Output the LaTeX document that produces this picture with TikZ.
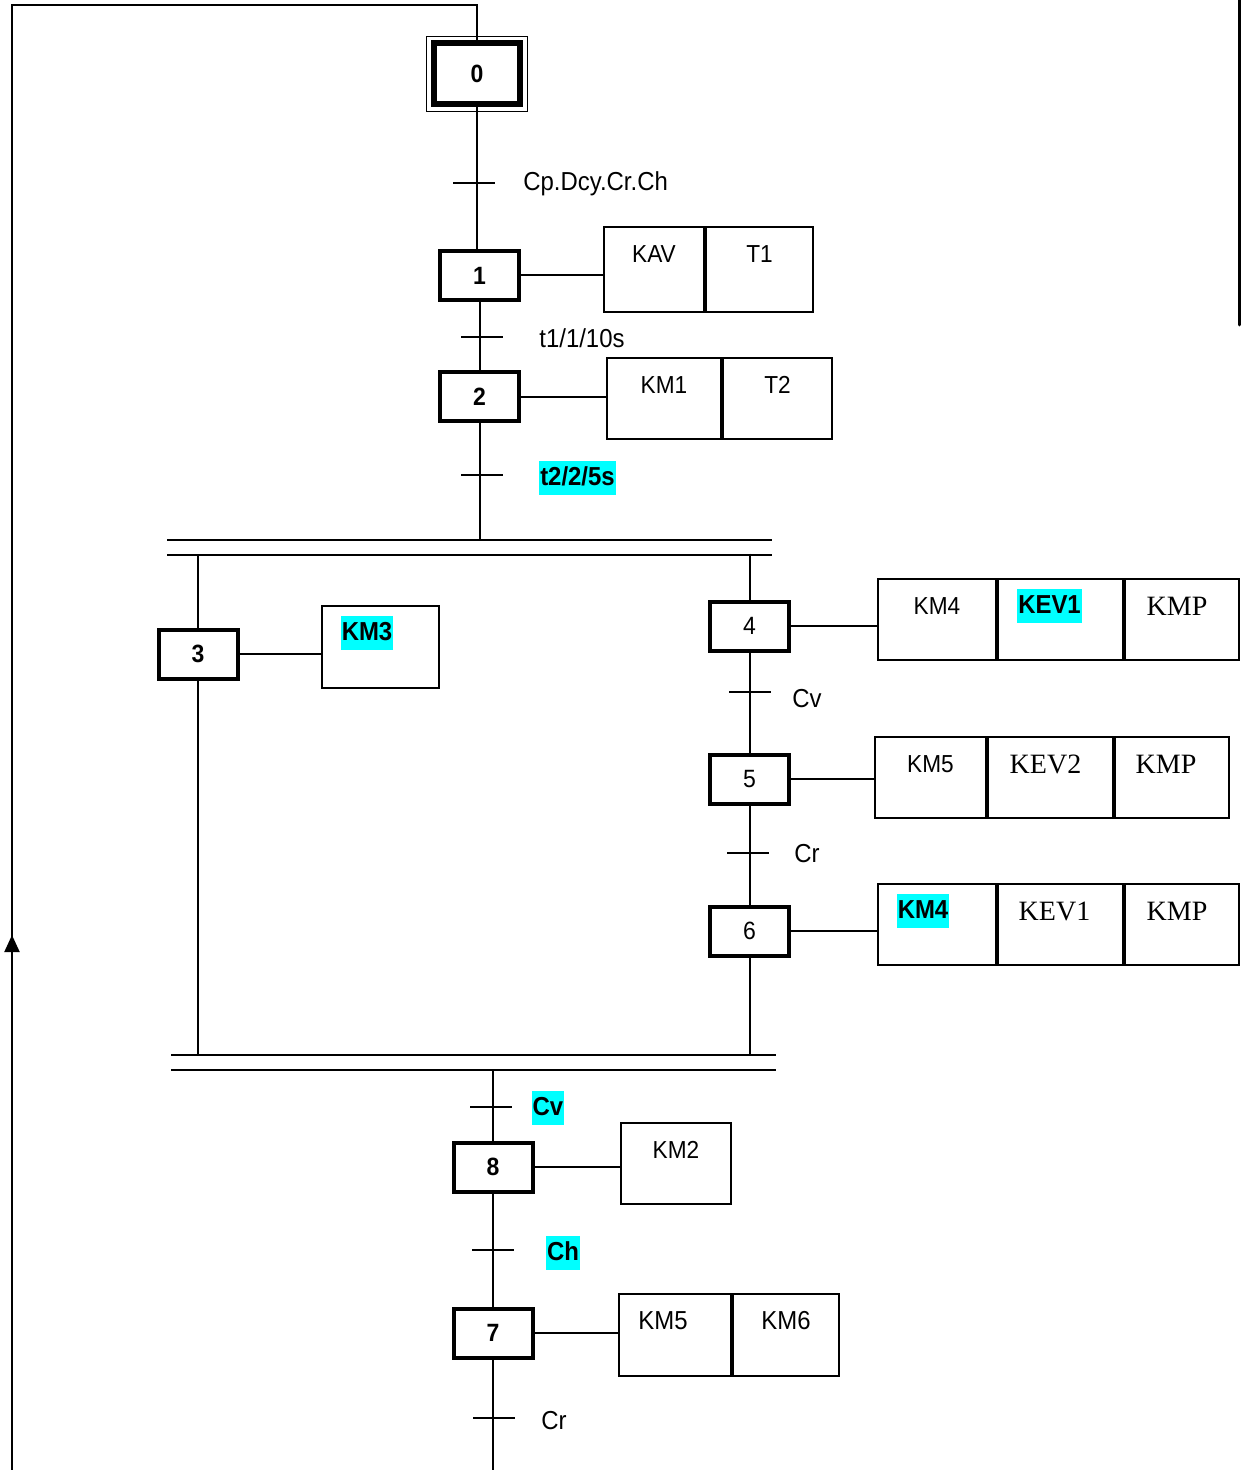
\documentclass[tikz,border=0pt]{standalone}
\usepackage{fontspec}
\setmainfont{Liberation Sans}[FakeStretch=0.92]
\newfontfamily\tnr{Liberation Serif}
\usetikzlibrary{arrows.meta,calc}
\definecolor{hl}{RGB}{0,255,255}
\begin{document}
\begin{tikzpicture}[x=0.5pt,y=-0.5pt,
 conn/.style={line width=1pt},
 stepbox/.style={draw, line width=2pt, minimum width=39.5pt, minimum height=24.5pt, inner sep=0pt, font=\fontsize{12.5}{14}\selectfont\bfseries},
 stepplain/.style={stepbox, font=\fontsize{12.5}{14}\selectfont},
 cell/.style={draw, line width=1pt, inner sep=0pt, minimum height=40.5pt},
 ct/.style={anchor=center, yshift=-14pt, inner sep=0pt, font=\fontsize{12.3}{14}\selectfont},
 cs/.style={ct, font=\fontsize{14}{16}\selectfont\tnr},
 ch/.style={ct, font=\fontsize{13}{15}\selectfont\bfseries, fill=hl, inner xsep=0.6pt, inner ysep=0.6pt, text height=11.5pt, text depth=4.5pt},
 trans/.style={fill=black, minimum width=21pt, minimum height=1pt, inner sep=0pt, outer sep=0pt},
 tl/.style={anchor=west, inner sep=0pt, font=\fontsize{13}{15}\selectfont},
 thl/.style={inner xsep=0.6pt, inner ysep=0.6pt, fill=hl, font=\fontsize{13}{15}\selectfont\bfseries, text height=11.5pt, text depth=4.5pt},
 bar/.style={fill=black, minimum height=1.3pt, minimum width=302.5pt, inner sep=0pt, outer sep=0pt},
]
\useasboundingbox (0,0) rectangle (1241,1470);

% steps
\node[stepbox, line width=3pt, minimum width=43pt, minimum height=30.5pt] (s0) at (477,74) {0};
\draw[line width=0.7pt] ($(s0.north west)+(-2.3pt,2pt)$) rectangle ($(s0.south east)+(2.3pt,-2pt)$);
\node[stepbox] (s1) at (479.5,275.5) {1};
\node[stepbox] (s2) at (479.5,397) {2};
\node[stepbox] (s3) at (198,654) {3};
\node[stepplain] (s4) at (749.5,626) {4};
\node[stepplain] (s5) at (749.5,779) {5};
\node[stepplain] (s6) at (749.5,931) {6};
\node[stepbox] (s8) at (493,1167) {8};
\node[stepbox] (s7) at (493,1333) {7};

% bars
\node[bar] (ba1) at (469.5,540) {};
\node[bar] (ba2) at (469.5,555) {};
\node[bar] (bb1) at (473.5,1055) {};
\node[bar] (bb2) at (473.5,1070) {};

% actions
\node[cell, minimum width=50pt, minimum height=42.5pt, label={[ct]north:KAV}] (a1a) at (654,269.5) {};
\node[cell, minimum width=53.5pt, minimum height=42.5pt, label={[ct]north:T1}] (a1b) at (759.5,269.5) {};
\node[cell, minimum width=57pt, label={[ct]north:KM1}] (a2a) at (664,398.5) {};
\node[cell, minimum width=54.5pt, label={[ct]north:T2}] (a2b) at (777.5,398.5) {};
\node[cell, minimum width=58.5pt, minimum height=41pt, label={[ch, xshift=-6.75pt]north:KM3}] (a3) at (380.5,647) {};
\node[cell, minimum width=59pt, label={[ct]north:KM4}] (a4a) at (937,619.5) {};
\node[cell, minimum width=62.5pt, label={[ch, xshift=-5.5pt]north:KEV1}] (a4b) at (1060.5,619.5) {};
\node[cell, minimum width=57pt, label={[cs, xshift=-2.5pt]north:KMP}] (a4c) at (1182,619.5) {};
\node[cell, minimum width=55.5pt, label={[ct]north:KM5}] (a5a) at (930.5,777.5) {};
\node[cell, minimum width=62.5pt, label={[cs, xshift=-2.5pt]north:KEV2}] (a5b) at (1050.5,777.5) {};
\node[cell, minimum width=57pt, label={[cs, xshift=-3pt]north:KMP}] (a5c) at (1172,777.5) {};
\node[cell, minimum width=59pt, label={[ch, xshift=-7pt]north:KM4}] (a6a) at (937,924.5) {};
\node[cell, minimum width=62.5pt, label={[cs, xshift=-3pt]north:KEV1}] (a6b) at (1060.5,924.5) {};
\node[cell, minimum width=57pt, label={[cs, xshift=-2.5pt]north:KMP}] (a6c) at (1182,924.5) {};
\node[cell, minimum width=55pt, label={[ct]north:KM2}] (a8) at (676,1163.5) {};
\node[cell, minimum width=56pt, minimum height=41pt, label={[ct, font=\fontsize{13}{15}\selectfont, xshift=-6pt]north:KM5}] (a7a) at (675,1335) {};
\node[cell, minimum width=53pt, minimum height=41pt, label={[ct, font=\fontsize{13}{15}\selectfont]north:KM6}] (a7b) at (786,1335) {};

% transitions
\node[trans] (t0) at (474,183) {};
\node[tl] (l0) at (523,184) {Cp.Dcy.Cr.Ch};
\node[trans] (t1) at (482,337) {};
\node[tl] (l1) at (539,338) {t1/1/10s};
\node[trans] (t2) at (482,475) {};
\node[thl] (l2) at (577.5,478) {t2/2/5s};
\node[trans] (t4) at (750,692) {};
\node[tl] (l4) at (792,699) {Cv};
\node[trans] (t5) at (748,853) {};
\node[tl] (l5) at (794,854) {Cr};
\node[trans] (t6) at (491,1107) {};
\node[thl] (l6) at (548,1108) {Cv};
\node[trans] (t8) at (493,1250) {};
\node[thl] (l8) at (563,1253) {Ch};
\node[trans] (t7) at (494,1418) {};
\node[tl] (l7) at (541,1421) {Cr};

% loop back
\coordinate (rb) at (12,1470);
\coordinate (rt) at (12,5);
\coordinate (arr) at (12,935);
\coordinate (bot) at (491,1470);
\draw[conn] (rb) -- (rt) -- (s0.north |- rt) -- (s0.north);
\draw[conn, -{Triangle[width=7.5pt,length=8.5pt]}] (rb) -- (arr);

% links
\draw[conn] (s0.south) -- (s0.south |- s1.north);
\draw[conn] (s1.south) -- (s2.north);
\draw[conn] (s2.south) -- (s2.south |- ba1.north);
\draw[conn] (s3.north |- ba2.south) -- (s3.north);
\draw[conn] (s4.north |- ba2.north) -- (s4.north);
\draw[conn] (s4.south) -- (s5.north);
\draw[conn] (s5.south) -- (s6.north);
\draw[conn] (s6.south) -- (s6.south |- bb1.north);
\draw[conn] (s3.south) -- (s3.south |- bb1.north);
\draw[conn] (s8.north |- bb2.south) -- (s8.north);
\draw[conn] (s8.south) -- (s7.north);
\draw[conn] (s7.south) -- (s7.south |- bot);

\draw[conn] (s1.east) -- (s1.east -| a1a.west);
\draw[conn] (s2.east) -- (s2.east -| a2a.west);
\draw[conn] (s3.east) -- (s3.east -| a3.west);
\draw[conn] (s4.east) -- (s4.east -| a4a.west);
\draw[conn] (s5.east) -- (s5.east -| a5a.west);
\draw[conn] (s6.east) -- (s6.east -| a6a.west);
\draw[conn] (s8.east) -- (s8.east -| a8.west);
\draw[conn] (s7.east) -- (s7.east -| a7a.west);

% page edge line at right
\coordinate (re1) at (1239,0);
\coordinate (re2) at (1239,325);
\draw[line width=1.5pt, line cap=round] (re1) -- (re2);
\end{tikzpicture}
\end{document}
